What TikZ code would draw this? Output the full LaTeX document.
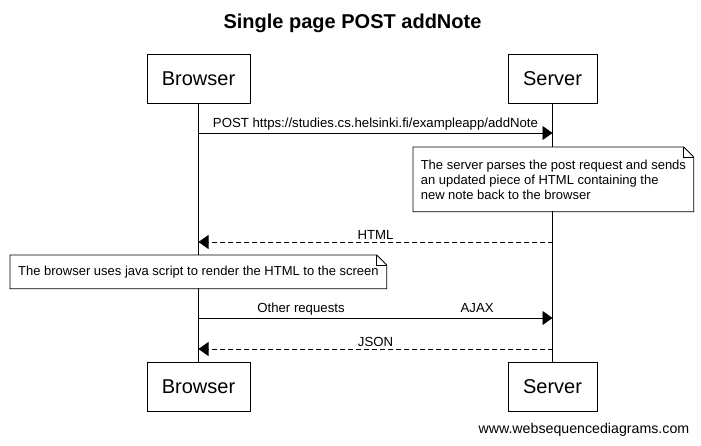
\documentclass[tikz,border=0pt]{standalone}
\usepackage{fontspec}
\setmainfont{Liberation Sans}
\usetikzlibrary{calc}
\usetikzlibrary{arrows.meta}

\tikzset{
  actor/.style={draw, fill=white, minimum height=49pt, inner xsep=9pt, font=\fontsize{20}{24}\selectfont},
  msg/.style={-{Triangle[length=10pt,width=14pt]}},
  reply/.style={msg, dash pattern=on 5pt off 3pt},
  lbl/.style={above, inner sep=2pt, font=\fontsize{13.2}{15}\selectfont},
  notebox/.style={anchor=north west, fill=white, inner xsep=7pt, inner ysep=0pt, align=left, font=\fontsize{13}{15}\selectfont},
}

% note outline with folded corner
\newcommand{\foldnote}[1]{
  \draw ($(#1.north east)+(-10,0)$) -- (#1.north west) -- (#1.south west)
    -- (#1.south east) -- ($(#1.north east)+(0,10)$) -- cycle;
  \draw ($(#1.north east)+(-10,0)$) |- ($(#1.north east)+(0,10)$);
}

\begin{document}
\begin{tikzpicture}[x=1pt, y=-1pt, line width=0.8pt]
    \useasboundingbox (0,0) rectangle (701,445);
    \node[font=\bfseries\fontsize{20}{24}\selectfont] (title) at (352.5,23) {Single page POST addNote};

    % actors
    \node[actor, minimum width=103pt] (bt) at (198.5,78.5) {Browser};
    \node[actor, minimum width=89pt] (st) at (552.5,78.5) {Server};
    \node[actor, minimum width=103pt] (bb) at (198.5,386.5) {Browser};
    \node[actor, minimum width=89pt] (sb) at (552.5,386.5) {Server};

    % lifelines
    \draw (bt.south) -- (bb.north);
    \draw (st.south) -- (sb.north);

    % points on the lifelines
    \coordinate (b1) at (bt.south |- 0,133);
    \coordinate (s1) at (st.south |- 0,133);
    \coordinate (b2) at (bt.south |- 0,242);
    \coordinate (s2) at (st.south |- 0,242);
    \coordinate (b3) at (bt.south |- 0,318);
    \coordinate (s3) at (st.south |- 0,318);
    \coordinate (b4) at (bt.south |- 0,349);
    \coordinate (s4) at (st.south |- 0,349);

    % messages
    \draw[msg] (b1) -- node[lbl] {POST https://studies.cs.helsinki.fi/exampleapp/addNote} (s1);
    \node[notebox, minimum width=280pt, minimum height=64pt] (n1) at (413,147)
      {The server parses the post request and sends\\an updated piece of HTML containing the\\new note back to the browser};
    \foldnote{n1}
    \draw[reply] (s2) -- node[lbl] {HTML} (b2);
    \node[notebox, minimum width=376pt, minimum height=33pt] (n2) at (10,255)
      {The browser uses java script to render the HTML to the screen};
    \foldnote{n2}
    \draw[msg] (b3) -- node[lbl] {Other requests\hspace{116pt}AJAX} (s3);
    \draw[reply] (s4) -- node[lbl] {JSON} (b4);

    \node[anchor=east, font=\fontsize{14.2}{16}\selectfont] (site) at (693,430) {www.websequencediagrams.com};
\end{tikzpicture}
\end{document}
